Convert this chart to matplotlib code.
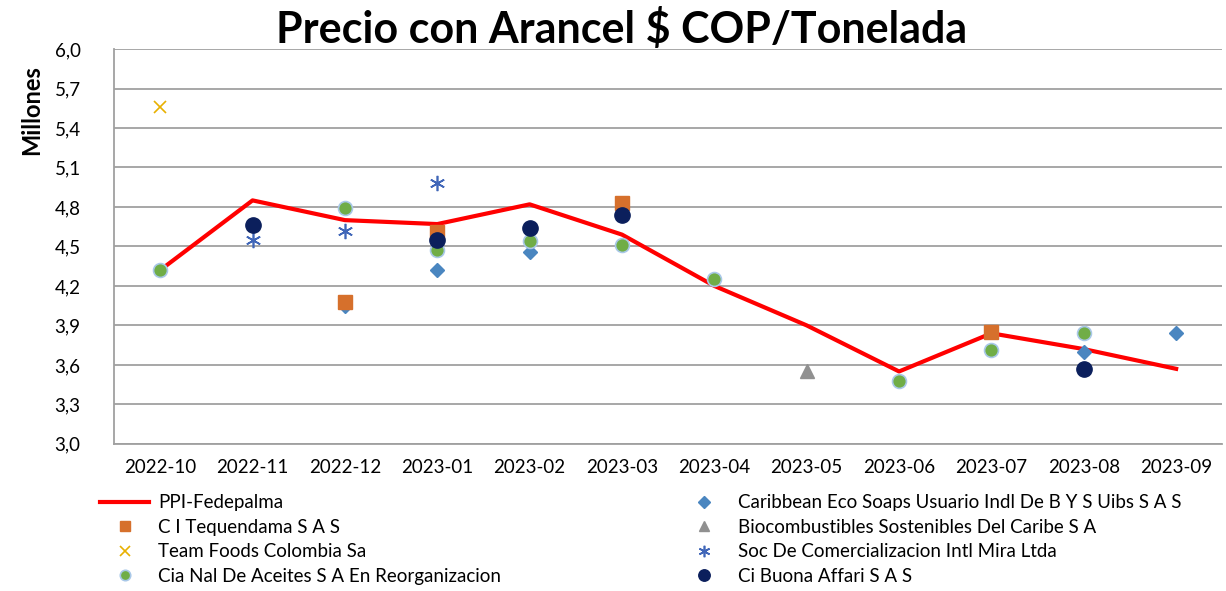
import numpy as np
import matplotlib
matplotlib.use("Agg")
import matplotlib.pyplot as plt

nan = np.nan

meses = ['2022-10', '2022-11', '2022-12', '2023-01', '2023-02', '2023-03',
         '2023-04', '2023-05', '2023-06', '2023-07', '2023-08', '2023-09']

ppi_fedepalma = [4.32, 4.85, 4.70, 4.67, 4.82, 4.59, 4.20, 3.90, 3.55, 3.84, 3.72, 3.57]
caribbean = [nan, nan, 4.05, 4.32, 4.46, nan, nan, nan, nan, nan, 3.70, 3.84]
tequendama = [nan, nan, 4.08, 4.61, nan, 4.83, nan, nan, nan, 3.85, nan, nan]
team_foods = [5.56, nan, nan, nan, nan, nan, nan, nan, nan, nan, nan, nan]
biocombustibles = [nan, nan, nan, nan, nan, nan, nan, 3.55, nan, nan, nan, nan]
soc_mira = [nan, 4.55, 4.62, 4.98, nan, nan, nan, nan, nan, nan, nan, nan]
cia_nal = [4.32, nan, 4.79, 4.47, 4.54, 4.51, 4.25, nan, 3.48, 3.71, 3.84, nan]
buona_affari = [nan, 4.66, nan, 4.55, 4.64, 4.74, nan, nan, nan, nan, 3.57, nan]

plt.rcParams['font.family'] = ['Lato', 'DejaVu Sans']

fig = plt.figure(figsize=(12.26, 5.91), dpi=100)
ax = fig.add_axes([0.093, 0.249, 0.904, 0.668])
x = np.arange(len(meses))

l_ppi, = ax.plot(x, ppi_fedepalma, color='#ff0000', lw=3, zorder=2)
l_car, = ax.plot(x, caribbean, ls='none', marker='D', ms=7.5, color='#4a86c0',
                 zorder=3)
l_teq, = ax.plot(x, tequendama, ls='none', marker='s', ms=10, color='#d6702c',
                 zorder=3)
l_team, = ax.plot(x, team_foods, ls='none', marker='x', ms=9, mew=1.2,
                  color='#e8b000', zorder=3)
l_bio, = ax.plot(x, biocombustibles, ls='none', marker='^', ms=10,
                 color='#909090', zorder=3)
l_soc, = ax.plot(x, soc_mira, ls='none', marker=(6, 2, 0), ms=11, mew=1.2,
                 color='#4066b8', zorder=3)
l_cia, = ax.plot(x, cia_nal, ls='none', marker='o', ms=10, color='#70ad47',
                 mec='#a9c8e8', mew=1.2, zorder=4)
l_buo, = ax.plot(x, buona_affari, ls='none', marker='o', ms=11, color='#0b1f5c',
                 zorder=5)

ax.set_xlim(-0.5, 11.5)
ax.set_ylim(3.0, 6.0)
yt = np.arange(3.0, 6.01, 0.3)
ax.set_yticks(yt)
ax.set_yticklabels([f'{v:.1f}'.replace('.', ',') for v in yt], fontsize=13.5)
ax.set_xticks(x)
ax.set_xticklabels(meses, fontsize=13.5)
ax.tick_params(axis='y', length=0, pad=24)
ax.tick_params(axis='x', length=0, pad=11)
ax.grid(axis='y', color='#a0a0a0', lw=1.3)
ax.set_axisbelow(True)
for s in ['top', 'right']:
    ax.spines[s].set_visible(False)
for s in ['left', 'bottom']:
    ax.spines[s].set_color('#a0a0a0')
    ax.spines[s].set_linewidth(1.3)

ax.set_ylabel('Millones', fontsize=17, fontweight='bold')
ax.yaxis.set_label_coords(-0.064, 0.846)
fig.suptitle('Precio con Arancel $ COP/Tonelada', fontsize=31, fontweight='bold',
             y=0.987, x=0.507)

handles = [l_ppi, l_teq, l_team, l_cia, l_car, l_bio, l_soc, l_buo]
labels = ['PPI-Fedepalma', 'C I Tequendama S A S', 'Team Foods Colombia Sa',
          'Cia Nal De Aceites S A En Reorganizacion',
          'Caribbean Eco Soaps Usuario Indl De B Y S Uibs S A S',
          'Biocombustibles Sostenibles Del Caribe S A',
          'Soc De Comercializacion Intl Mira Ltda', 'Ci Buona Affari S A S']
fig.legend(handles, labels, ncol=2, loc='upper left', bbox_to_anchor=(0.068, 0.192),
           frameon=False, fontsize=13.5, markerscale=0.75, handlelength=2.6,
           handletextpad=0.5, columnspacing=9.5, labelspacing=0.4)

fig.savefig('out.png', dpi=100)
